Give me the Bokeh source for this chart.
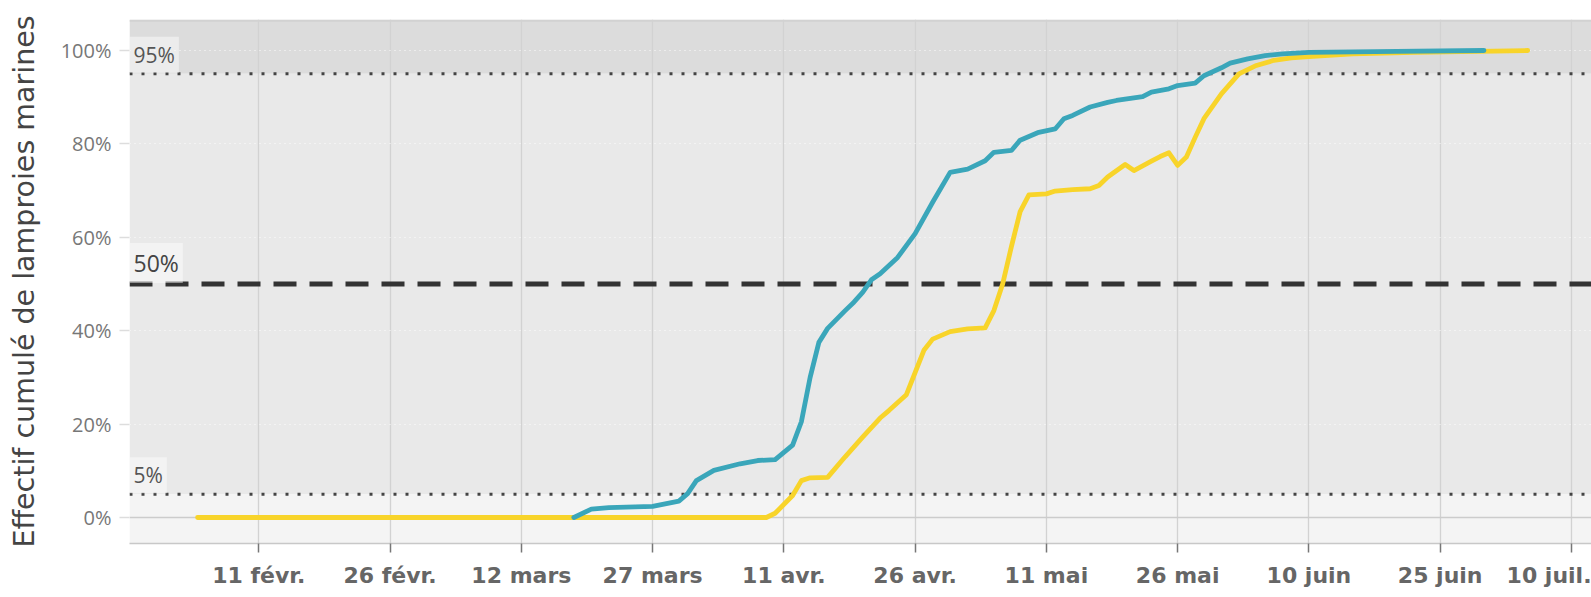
from datetime import datetime
import numpy as np
from bokeh.plotting import figure
from bokeh.models import Range1d, FixedTicker, BoxAnnotation, Span, Label
from bokeh.embed import file_html
from bokeh.resources import INLINE

# ---------------- data ----------------
blue_dates = ["2020-03-18", "2020-03-20", "2020-03-22", "2020-03-27", "2020-03-30",
              "2020-03-31", "2020-04-01", "2020-04-03", "2020-04-06", "2020-04-08",
              "2020-04-10", "2020-04-12", "2020-04-13", "2020-04-14", "2020-04-15",
              "2020-04-16", "2020-04-18", "2020-04-19", "2020-04-20", "2020-04-21",
              "2020-04-22", "2020-04-24", "2020-04-26", "2020-04-28", "2020-04-30",
              "2020-05-02", "2020-05-04", "2020-05-05", "2020-05-07", "2020-05-08",
              "2020-05-10", "2020-05-12", "2020-05-13", "2020-05-14", "2020-05-16",
              "2020-05-18", "2020-05-19", "2020-05-22", "2020-05-23", "2020-05-25",
              "2020-05-26", "2020-05-28", "2020-05-29", "2020-05-31", "2020-06-01",
              "2020-06-03", "2020-06-05", "2020-06-07", "2020-06-10", "2020-06-20",
              "2020-06-30"]
blue_values = [0, 1.8, 2.1, 2.4, 3.5,
               5.1, 7.9, 10.1, 11.5, 12.2,
               12.4, 15.5, 20.5, 30.0, 37.5,
               40.5, 44.3, 46.1, 48.2, 50.9,
               52.2, 55.7, 60.8, 67.5, 73.9,
               74.6, 76.4, 78.2, 78.6, 80.8,
               82.4, 83.2, 85.4, 86.1, 87.9,
               88.9, 89.3, 90.1, 91.1, 91.8,
               92.5, 93.0, 94.6, 96.3, 97.3,
               98.2, 98.9, 99.3, 99.6, 99.8,
               100]

yellow_dates = ["2020-02-04", "2020-04-09", "2020-04-10", "2020-04-12", "2020-04-13",
                "2020-04-14", "2020-04-16", "2020-04-18", "2020-04-20", "2020-04-22",
                "2020-04-23", "2020-04-25", "2020-04-27", "2020-04-28", "2020-04-30",
                "2020-05-02", "2020-05-04", "2020-05-05", "2020-05-06", "2020-05-07",
                "2020-05-08", "2020-05-09", "2020-05-11", "2020-05-12", "2020-05-14",
                "2020-05-16", "2020-05-17", "2020-05-18", "2020-05-20", "2020-05-21",
                "2020-05-23", "2020-05-24", "2020-05-25", "2020-05-26", "2020-05-27",
                "2020-05-28", "2020-05-29", "2020-05-31", "2020-06-02", "2020-06-04",
                "2020-06-06", "2020-06-08", "2020-06-10", "2020-06-15", "2020-06-22",
                "2020-07-05"]
yellow_values = [0, 0, 0.9, 4.7, 7.9,
                 8.5, 8.6, 13.0, 17.2, 21.3,
                 22.9, 26.3, 35.8, 38.2, 39.8,
                 40.4, 40.6, 44.3, 50.0, 58.0,
                 65.5, 69.1, 69.3, 69.9, 70.2,
                 70.4, 71.1, 72.9, 75.6, 74.3,
                 76.3, 77.3, 78.1, 75.4, 77.2,
                 81.4, 85.4, 90.7, 95.0, 96.8,
                 97.9, 98.4, 98.7, 99.3, 99.6,
                 100]

x_tick_dates = ["2020-02-11", "2020-02-26", "2020-03-12", "2020-03-27", "2020-04-11",
                "2020-04-26", "2020-05-11", "2020-05-26", "2020-06-10", "2020-06-25",
                "2020-07-10"]
x_tick_labels = ["11 févr.", "26 févr.", "12 mars", "27 mars", "11 avr.", "26 avr.",
                 "11 mai", "26 mai", "10 juin", "25 juin", "10 juil."]
y_ticks = [0, 20, 40, 60, 80, 100]
y_tick_labels = ["0%", "20%", "40%", "60%", "80%", "100%"]
threshold_values = [5, 50, 95]
threshold_labels = ["5%", "50%", "95%"]
y_axis_title = "Effectif cumulé de lamproies marines"


def to_ms(s):
    return (datetime.strptime(s, "%Y-%m-%d") - datetime(1970, 1, 1)).total_seconds() * 1000.0


x_start = datetime(2020, 1, 27, 5, 17)
x_end = datetime(2020, 7, 12, 7, 0)
x_start_ms = (x_start - datetime(1970, 1, 1)).total_seconds() * 1000.0
y_start, y_end = -5.57, 106.64

p = figure(width=1591, height=597, x_axis_type="datetime",
           x_range=Range1d(x_start, x_end), y_range=Range1d(y_start, y_end),
           output_backend="svg", toolbar_location=None,
           min_border_left=129, min_border_right=0, min_border_top=19, min_border_bottom=54)
p.outline_line_color = None
p.background_fill_color = "white"
p.border_fill_color = "white"

# background bands
p.add_layout(BoxAnnotation(top=threshold_values[0], fill_color="#f4f4f4", fill_alpha=1,
                           line_color=None, level="image"))
p.add_layout(BoxAnnotation(bottom=threshold_values[0], top=threshold_values[2],
                           fill_color="#e9e9e9", fill_alpha=1, line_color=None, level="image"))
p.add_layout(BoxAnnotation(bottom=threshold_values[2], fill_color="#dcdcdc", fill_alpha=1,
                           line_color=None, level="image"))

# grids
p.xgrid.grid_line_color = "#d2d2d2"
p.xgrid.grid_line_width = 1.3
p.ygrid.grid_line_color = "#ffffff"
p.ygrid.grid_line_dash = "1 4"
p.ygrid.grid_line_width = 1
p.ygrid.grid_line_alpha = 0.9

# zero line and faint top edge
p.add_layout(Span(location=0, dimension="width", line_color="#cccccc", line_width=1.5,
                  level="underlay"))
p.add_layout(Span(location=y_end - 0.25, dimension="width", line_color="#d2d2d2",
                  line_width=2, level="underlay"))

# threshold lines
for v in threshold_values:
    if v == 50:
        sp = Span(location=v, dimension="width", line_color="#333333", line_width=5,
                  line_dash="23 13", level="underlay")
    else:
        sp = Span(location=v, dimension="width", line_color="#444444", line_width=3,
                  line_dash="3 9", level="underlay")
    p.add_layout(sp)

for v, t in zip(threshold_values, threshold_labels):
    big = (v == 50)
    p.add_layout(Label(x=x_start_ms, y=v, y_offset=1, text=t,
                       text_font="Open Sans",
                       text_font_size="23px" if big else "21px",
                       text_color="#444444" if big else "#555555",
                       text_baseline="bottom", text_align="left",
                       background_fill_color="white", background_fill_alpha=0.45,
                       padding=4, level="underlay"))

# series
yd = np.array(yellow_dates, dtype="datetime64[ms]")
bd = np.array(blue_dates, dtype="datetime64[ms]")
p.line(yd, yellow_values, line_color="#f8d42a", line_width=4.8,
       line_join="round", line_cap="round")
p.line(bd, blue_values, line_color="#3aa6ba", line_width=4.8,
       line_join="round", line_cap="round")

# x axis
x_ticks_ms = [to_ms(d) for d in x_tick_dates]
p.xaxis.ticker = FixedTicker(ticks=x_ticks_ms, minor_ticks=[])
p.xaxis.major_label_overrides = {k: lab for k, lab in zip(x_ticks_ms, x_tick_labels)}
p.xaxis.axis_line_color = "#c8c8c8"
p.xaxis.axis_line_width = 1.5
p.xaxis.major_tick_line_color = "#777777"
p.xaxis.major_tick_line_width = 1.5
p.xaxis.major_tick_out = 9
p.xaxis.major_tick_in = 0
p.xaxis.minor_tick_line_color = None
p.xaxis.major_label_text_font = "DejaVu Sans"
p.xaxis.major_label_text_font_style = "bold"
p.xaxis.major_label_text_font_size = "22px"
p.xaxis.major_label_text_color = "#666666"
p.xaxis.major_label_standoff = 10

# y axis
p.yaxis.ticker = FixedTicker(ticks=y_ticks, minor_ticks=[])
p.yaxis.major_label_overrides = {k: lab for k, lab in zip(y_ticks, y_tick_labels)}
p.yaxis.axis_line_color = None
p.yaxis.major_tick_line_color = "#dddddd"
p.yaxis.major_tick_line_width = 1.3
p.yaxis.major_tick_out = 10
p.yaxis.major_tick_in = 0
p.yaxis.minor_tick_line_color = None
p.yaxis.major_label_text_font = "Open Sans"
p.yaxis.major_label_text_font_size = "20px"
p.yaxis.major_label_text_color = "#777777"
p.yaxis.major_label_standoff = 8
p.yaxis.axis_label = y_axis_title
p.yaxis.axis_label_text_font = "DejaVu Sans"
p.yaxis.axis_label_text_font_style = "normal"
p.yaxis.axis_label_text_font_size = "28.5px"
p.yaxis.axis_label_text_color = "#444444"
p.yaxis.axis_label_standoff = 17

open("out.html", "w").write(file_html(p, INLINE, title="Effectif cumulé"))
